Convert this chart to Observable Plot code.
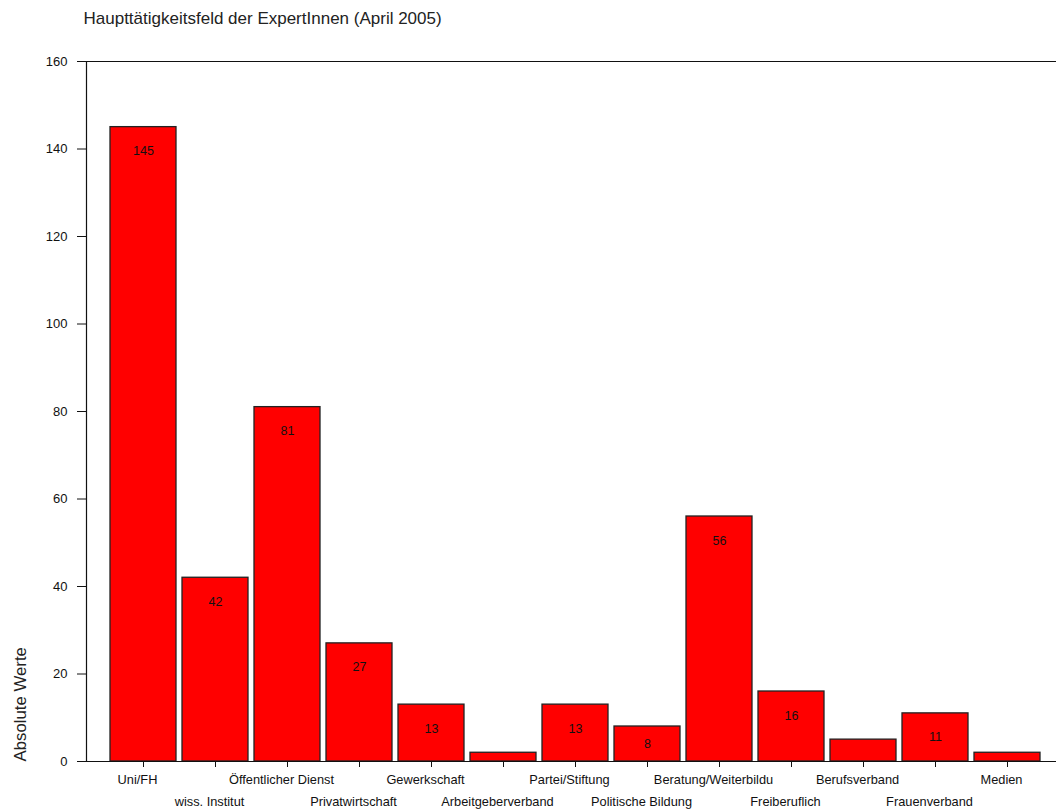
<!DOCTYPE html>
<html>
<head>
<meta charset="utf-8">
<script src="https://cdn.jsdelivr.net/npm/d3@7"></script>
<script src="https://cdn.jsdelivr.net/npm/@observablehq/plot@0.6"></script>
<style>
  body { margin: 0; background: #fff; }
  #chart svg { display: block; }
</style>
</head>
<body>
<div id="chart"></div>
<script>
const categories = ["Uni/FH", "wiss. Institut", "Öffentlicher Dienst", "Privatwirtschaft", "Gewerkschaft", "Arbeitgeberverband", "Partei/Stiftung", "Politische Bildung", "Beratung/Weiterbildu", "Freiberuflich", "Berufsverband", "Frauenverband", "Medien"];
const values = [145, 42, 81, 27, 13, 2, 13, 8, 56, 16, 5, 11, 2];
const yTicks = [0, 20, 40, 60, 80, 100, 120, 140, 160];
const title = "Haupttätigkeitsfeld der ExpertInnen (April 2005)";
const yLabel = "Absolute Werte";

const data = categories.map((c, i) => ({cat: c, value: values[i], i}));
const font = "'Liberation Sans', Arial, sans-serif";

const chart = Plot.plot({
  width: 1056,
  height: 812,
  marginTop: 61,
  marginBottom: 51,
  marginLeft: 86,
  marginRight: 0,
  style: {fontFamily: font, color: "#111", background: "#fff"},
  x: {domain: categories, range: [107, 1044], paddingInner: 0.08, paddingOuter: 0.04, axis: null},
  y: {domain: [0, 160], axis: null},
  marks: [
    Plot.barY(data, {x: "cat", y: "value", fill: "#ff0000", stroke: "#222", strokeWidth: 1.3}),
    Plot.text(data.filter(d => d.value >= 8), {
      x: "cat",
      y: d => Math.max(d.value - 5.5, d.value / 2),
      text: d => String(d.value),
      fontSize: 12.5, fill: "#111", lineAnchor: "middle"
    }),
    Plot.axisY({ticks: yTicks, tickSize: 9, tickPadding: 10, fontSize: 13, label: null, stroke: "#111"}),
    Plot.ruleY([0, 160], {stroke: "#111", strokeWidth: 1.2}),
    Plot.frame({anchor: "left", stroke: "#111", strokeWidth: 1.2}),
    Plot.axisX({
      tickSize: 6, tickPadding: 7, fontSize: 12.8, label: null, stroke: "#111",
      tickFormat: d => categories.indexOf(d) % 2 === 0 ? d : ""
    }),
    Plot.axisX({
      tickSize: 0, tickPadding: 35, fontSize: 12.8, label: null,
      tickFormat: d => categories.indexOf(d) % 2 === 1 ? d : ""
    }),
    Plot.text([yLabel], {
      frameAnchor: "bottom-left", dx: -66, rotate: -90, textAnchor: "start",
      lineAnchor: "middle", fontSize: 16.8, fill: "#222"
    }),
    Plot.text([title], {
      frameAnchor: "top-left", dx: -3, dy: -43, textAnchor: "start",
      lineAnchor: "middle", fontSize: 17, fill: "#222"
    })
  ]
});
document.getElementById("chart").appendChild(chart);
// shift x tick labels slightly left, as in the reference
d3.select(chart).selectAll("g[aria-label='x-axis tick label'] text").attr("dx", -6);
</script>
</body>
</html>
